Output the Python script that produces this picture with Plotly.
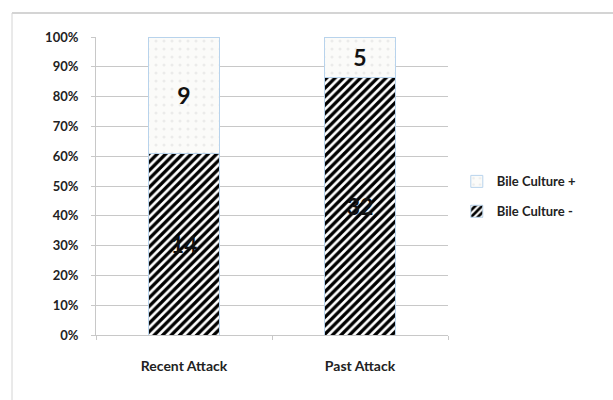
import plotly.graph_objects as go

categories = ["Recent Attack", "Past Attack"]
culture_neg = [14, 32]
culture_pos = [9, 5]
y_ticks = [0, 10, 20, 30, 40, 50, 60, 70, 80, 90, 100]
y_tick_labels = [f"{v}%" for v in y_ticks]

font_family = "Lato, Open Sans, sans-serif"

fig = go.Figure()
fig.add_trace(go.Bar(
    x=categories, y=culture_neg, name="Bile Culture -", legendgroup="neg",
    legendrank=2,
    text=[str(v) for v in culture_neg], textposition="inside",
    insidetextanchor="middle",
    textfont=dict(family=font_family, size=23, color="#111111", weight="bold"),
    marker=dict(color="white",
                line=dict(color="#b8d3ec", width=1),
                pattern=dict(shape="/", fgcolor="#000000", bgcolor="white",
                             fgopacity=1, size=6, solidity=0.55)),
    width=0.4,
))
fig.add_trace(go.Bar(
    x=categories, y=culture_pos, name="Bile Culture +", legendgroup="pos",
    legendrank=1,
    text=[str(v) for v in culture_pos], textposition="inside",
    insidetextanchor="middle",
    textfont=dict(family=font_family, size=23, color="#111111", weight="bold"),
    marker=dict(color="#fbfbf9",
                line=dict(color="#b8d3ec", width=1),
                pattern=dict(shape=".", fgcolor="#dcdcdc", bgcolor="#fbfbf9",
                             size=8, solidity=0.12)),
    width=0.4,
))

fig.update_layout(
    barmode="stack", barnorm="percent",
    width=613, height=400,
    margin=dict(l=96, r=165, t=37, b=65),
    paper_bgcolor="white", plot_bgcolor="white",
    font=dict(family=font_family, color="#222222"),
    showlegend=True,
    legend=dict(x=1.025, y=0.465, xanchor="left", yanchor="middle",
                traceorder="grouped",
                font=dict(family=font_family, size=13, color="#222222", weight="bold"),
                itemwidth=30, tracegroupgap=10),
    uniformtext=dict(mode="show", minsize=10),
)
fig.update_yaxes(
    range=[0, 100], tickvals=y_ticks, ticktext=y_tick_labels,
    showgrid=True, gridcolor="#c8c8c8", gridwidth=1,
    showline=True, linecolor="#c8c8c8", linewidth=1,
    ticks="outside", ticklen=4, tickcolor="#c8c8c8",
    tickfont=dict(family=font_family, size=13, color="#222222", weight="bold"),
    ticklabelstandoff=10,
    zeroline=False, fixedrange=True,
)
fig.update_xaxes(
    showline=True, linecolor="#c8c8c8", linewidth=1,
    ticks="outside", ticklen=4, tickcolor="#c8c8c8", tickson="boundaries",
    tickfont=dict(family=font_family, size=14, color="#222222", weight="bold"),
    ticklabelstandoff=18,
    fixedrange=True,
)
# outer chart-area border (top and left edges visible)
fig.add_shape(type="line", xref="paper", yref="paper",
              x0=-0.2386, x1=1.5, y0=1.0805, y1=1.0805,
              line=dict(color="#d4d4d4", width=2))
fig.add_shape(type="line", xref="paper", yref="paper",
              x0=-0.2386, x1=-0.2386, y0=1.0805, y1=-0.23,
              line=dict(color="#d4d4d4", width=1))

fig.write_html("out.html")
